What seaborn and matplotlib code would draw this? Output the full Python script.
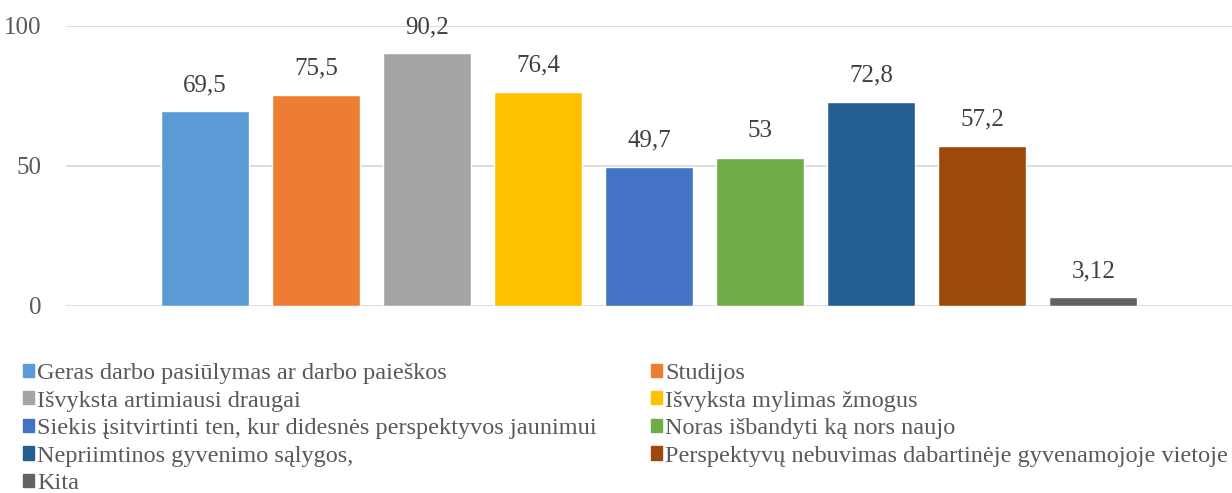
import matplotlib
matplotlib.use("Agg")
import matplotlib.pyplot as plt
import matplotlib.patches as mpatches
import seaborn as sns
import pandas as pd

categories = [
    "Geras darbo pasiūlymas ar darbo paieškos",
    "Studijos",
    "Išvyksta artimiausi draugai",
    "Išvyksta mylimas žmogus",
    "Siekis įsitvirtinti ten, kur didesnės perspektyvos jaunimui",
    "Noras išbandyti ką nors naujo",
    "Nepriimtinos gyvenimo sąlygos,",
    "Perspektyvų nebuvimas dabartinėje gyvenamojoje vietoje",
    "Kita",
]
values = [69.5, 75.5, 90.2, 76.4, 49.7, 53, 72.8, 57.2, 3.12]
colors = ["#5B9BD5", "#ED7D31", "#A5A5A5", "#FFC000", "#4472C4",
          "#70AD47", "#255E91", "#9E480E", "#636363"]
yticks = [0, 50, 100]

df = pd.DataFrame({"kategorija": categories, "reiksme": values})

sns.set_style("white")
plt.rcParams["font.family"] = ["Liberation Serif", "DejaVu Serif"]

fig = plt.figure(figsize=(12.32, 4.93), dpi=100)
ax = fig.add_axes([66 / 1232, 187 / 493, 1 - 66 / 1232, 280 / 493])

sns.barplot(data=df, x="kategorija", y="reiksme", hue="kategorija",
            palette=colors, width=0.79, legend=False, ax=ax, saturation=1)

for cont in ax.containers:
    ax.bar_label(cont, labels=[f"{v:g}".replace(".", ",") for v in cont.datavalues],
                 padding=11, fontsize=18, color="#404040")

ax.set_xlim(-1.25, 9.25)
ax.set_ylim(0, 100)
ax.set_yticks(yticks)
ax.set_yticklabels([str(t) for t in yticks], fontsize=18, color="#595959")
ax.tick_params(axis="y", length=0, pad=18)
ax.set_xticks([])
ax.set_xlabel("")
ax.set_ylabel("")
ax.grid(axis="y", color="#D9D9D9", linewidth=1.3)
ax.set_axisbelow(True)
for s in ax.spines.values():
    s.set_visible(False)

# legend row-wise order (Excel style): reorder for column-major filling
handles = [mpatches.Patch(color=c, label=l) for c, l in zip(colors, categories)]
order = [0, 2, 4, 6, 8, 1, 3, 5, 7]
fig.legend([handles[i] for i in order], [categories[i] for i in order],
           loc="upper left", bbox_to_anchor=(23 / 1232, 1 - 363 / 493),
           ncol=2, frameon=False, fontsize=17.5, labelcolor="#595959",
           handlelength=0.45, handleheight=0.45, handletextpad=0.12,
           labelspacing=0.27, columnspacing=2.25, borderpad=0, borderaxespad=0)

fig.savefig("out.png", dpi=100)
